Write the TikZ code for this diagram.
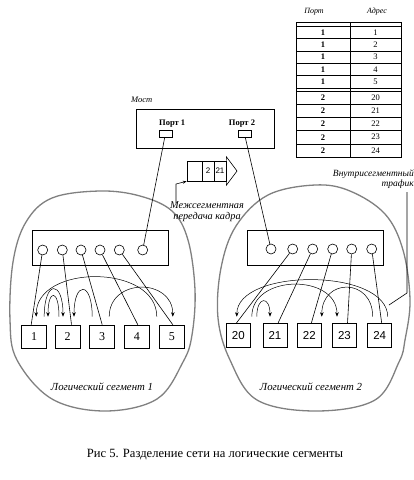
\documentclass[tikz,border=0pt]{standalone}
\usepackage{fontspec}
\setmainfont{Liberation Serif}
\newfontfamily\arialf{Liberation Sans}
\usetikzlibrary{calc,arrows.meta}
\begin{document}
\begin{tikzpicture}[x=1pt,y=-1pt,
  every node/.style={inner sep=0pt},
  thinl/.style={line width=0.6pt},
  oval/.style={draw=black!50, line width=1.3pt},
  stnL/.style={draw, line width=0.6pt, minimum width=25pt, minimum height=23pt, font=\fontsize{12}{12}\selectfont},
  stnR/.style={draw, line width=0.6pt, minimum width=24pt, minimum height=24pt, font=\arialf\fontsize{11.5}{12}\selectfont},
  prt/.style={draw, circle, line width=0.6pt, minimum size=10pt},
  hubbox/.style={draw, line width=0.6pt, minimum width=136pt, minimum height=35pt},
  trf/.style={line width=0.5pt, -{Stealth[length=4.5pt,width=3.5pt]}},
  lbl/.style={font=\itshape\fontsize{10.8}{11}\selectfont},
  tbl/.style={font=\fontsize{8.5}{9}\selectfont},
  cell/.style={draw, line width=0.6pt, minimum height=20pt, font=\arialf\fontsize{8}{8}\selectfont},
]
\useasboundingbox (0,0) rectangle (414,480);
\fill[white] (0,0) rectangle (414,480);

% ---- table ----
\node[font=\itshape\fontsize{8}{9}\selectfont] (hp) at (314,12) {Порт};
\node[font=\itshape\fontsize{8}{9}\selectfont] (ha) at (377,12) {Адрес};
\draw[thinl] (296,22) rectangle (401,157);
\draw[thinl] (296,26) -- (401,26);
\draw[thinl] (350,22) -- (350,157);
\foreach \yy in {38.4,50.8,63.2,75.6,88,91,104.2,117.4,130.6,143.8}
  \draw[thinl] (296,\yy) -- (401,\yy);
\foreach \a [count=\i] in {1,2,3,4,5} {
  \node[tbl, font=\bfseries\fontsize{8.5}{9}\selectfont] (tp\i) at (323,{26+12.4*(\i-0.5)}) {1};
  \node[tbl] (ta\i) at (375.5,{26+12.4*(\i-0.5)}) {\a};
}
\foreach \a [count=\i] in {20,21,22,23,24} {
  \node[tbl, font=\bfseries\fontsize{8.5}{9}\selectfont] (tq\i) at (323,{91+13.2*(\i-0.5)}) {2};
  \node[tbl] (tb\i) at (375.5,{91+13.2*(\i-0.5)}) {\a};
}

% ---- segments (ovals) ----
\draw[oval] plot[smooth cycle, tension=0.6] coordinates {(100,191) (140,196) (172,211) (188,240) (195,290) (192,335) (183,362) (157,399) (105,411) (52,399) (17,360) (10,320) (13,262) (26,222) (52,198)};
\draw[oval] plot[smooth cycle, tension=0.6] coordinates {(315,185) (350,191) (385,214) (403,250) (410,300) (405,340) (399,362) (375,400) (316,411) (257,400) (230,360) (218,318) (221,268) (236,226) (268,195)};

% ---- bridge ----
\node[draw, thinl, minimum width=138pt, minimum height=39pt] (bridge) at (205,128.5) {};
\node[font=\itshape\fontsize{8.5}{9}\selectfont, anchor=west] (most) at (131,100) {Мост};
\node[font=\bfseries\fontsize{8.5}{9}\selectfont, anchor=west] (pt1) at (159,124) {Порт 1};
\node[font=\bfseries\fontsize{8.5}{9}\selectfont] (pt2) at (242,124) {Порт 2};
\node[draw, thinl, minimum width=13pt, minimum height=7pt] (pb1) at (165.5,133.5) {};
\node[draw, thinl, minimum width=13pt, minimum height=7pt] (pb2) at (244.5,134) {};

% ---- hubs ----
\node[hubbox] (hub1) at (100,247.5) {};
\foreach \xx [count=\i] in {42.7,62.3,81,100,119.3,142.7}
  \node[prt] (L\i) at (\xx,250) {};
\node[hubbox] (hub2) at (315,247.5) {};
\foreach \xx [count=\i] in {271,292.7,312.7,332.7,351.7,371.7}
  \node[prt] (R\i) at (\xx,249) {};

% ---- stations ----
\node[stnL] (s1) at (34.2,336.5) {1};
\node[stnL] (s2) at (67.5,336.5) {2};
\node[stnL] (s3) at (102.2,336.5) {3};
\node[stnL] (s4) at (136.8,336.5) {4};
\node[stnL] (s5) at (171.8,336.5) {5};
\node[stnR] (s20) at (238.3,335.5) {20};
\node[stnR] (s21) at (275,335.5) {21};
\node[stnR] (s22) at (309.3,335.5) {22};
\node[stnR] (s23) at (344.5,335.5) {23};
\node[stnR] (s24) at (379.7,335.5) {24};

% ---- links ----
\draw[thinl] (pb1) -- (L6);
\draw[thinl] (pb2) -- (R1);
\draw[thinl] (L1) -- ([xshift=-3pt]s1.north);
\draw[thinl] (L2) -- ([xshift=4pt]s2.north);
\draw[thinl] (L3) -- (s3.north);
\draw[thinl] (L4) -- ([xshift=1pt]s4.north);
\draw[thinl] (L5) -- ([xshift=1pt]s5.north);
\draw[thinl] (R2) -- ([xshift=-2pt]s20.north);
\draw[thinl] (R3) -- ([xshift=3pt]s21.north);
\draw[thinl] (R4) -- ([xshift=2pt]s22.north);
\draw[thinl] (R5) -- ([xshift=3pt]s23.north);
\draw[thinl] (R6) -- ([xshift=2pt]s24.north);

% ---- intra-segment traffic, segment 1 ----
\draw[trf] ($(s5.north)+(-15,-8)$) .. controls +(0,-53) and +(0,-53) .. ($(s1.north)+(2,-8)$);
\draw[trf] ($(s3.north)+(7,-8)$) .. controls +(0,-39) and +(0,-39) .. ($(s5.north)+(1,-8)$);
\draw[trf] ($(s3.north)+(-10,-8)$) .. controls +(0,-36) and +(0,-36) .. ($(s2.north)+(6.5,-8)$);
\draw[trf] ($(s1.north)+(10,-8)$) .. controls +(0,-37) and +(0,-37) .. ($(s2.north)+(-4.5,-8)$);
\draw[trf] ($(s2.north)+(-8.5,-8)$) .. controls +(0,-28) and +(0,-28) .. ($(s1.north)+(13.8,-8)$);

% ---- intra-segment traffic, segment 2 ----
\draw[trf] ($(s24.north)+(8,-6.5)$) .. controls +(0,-49) and +(0,-49) .. ($(s20.north)+(-1.5,-6.5)$);
\draw[trf] ($(s24.north)+(-7,-6.5)$) .. controls +(0,-39) and +(0,-39) .. ($(s22.north)+(12.5,-6.5)$);
\draw[trf] ($(s20.north)+(13.5,-6.5)$) .. controls +(0,-43) and +(0,-43) .. ($(s23.north)+(-7.5,-6.5)$);
\draw[trf] ($(s20.north)+(18.5,-6.5)$) .. controls +(0,-21) and +(0,-21) .. ($(s21.north)+(-5,-6.5)$);

% ---- frame being forwarded ----
\node[cell, minimum width=15pt] (fr0) at (194.5,171) {};
\node[cell, minimum width=12pt] (fr1) at (208,171) {2};
\node[cell, minimum width=12pt] (fr2) at (220,171) {21};
\coordinate (apex) at (237,171);
\draw[thinl, line join=miter] (fr2.north east) -- ++(0,-4) -- (apex) -- ($(fr2.south east)+(0,4)$) -- (fr2.south east);

% ---- labels ----
\node[lbl, align=center, font=\itshape\fontsize{10.3}{11}\selectfont] (inter) at (207,212) {Межсегментная\\передача кадра};
\coordinate (ld1) at (176,203);
\draw[thinl, -{Stealth[length=4pt,width=3pt]}] (ld1) -- ++(0,-19) -- (fr0.south west);

\node[align=right, anchor=north east, font=\itshape\fontsize{9.5}{10}\selectfont] (intra) at (414,170) {Внутрисегментный\\трафик};
\coordinate (ia) at (407,192);
\coordinate (ib) at (389,305);
\draw[thinl] (ia) -- (407,293) -- (ib);

\node[lbl] (lseg1) at (102,387) {Логический сегмент 1};
\node[lbl] (lseg2) at (311,387) {Логический сегмент 2};
\node[font=\fontsize{12.6}{13}\selectfont] (cap) at (215,455) {Рис 5. Разделение сети на логические сегменты};
\end{tikzpicture}
\end{document}
